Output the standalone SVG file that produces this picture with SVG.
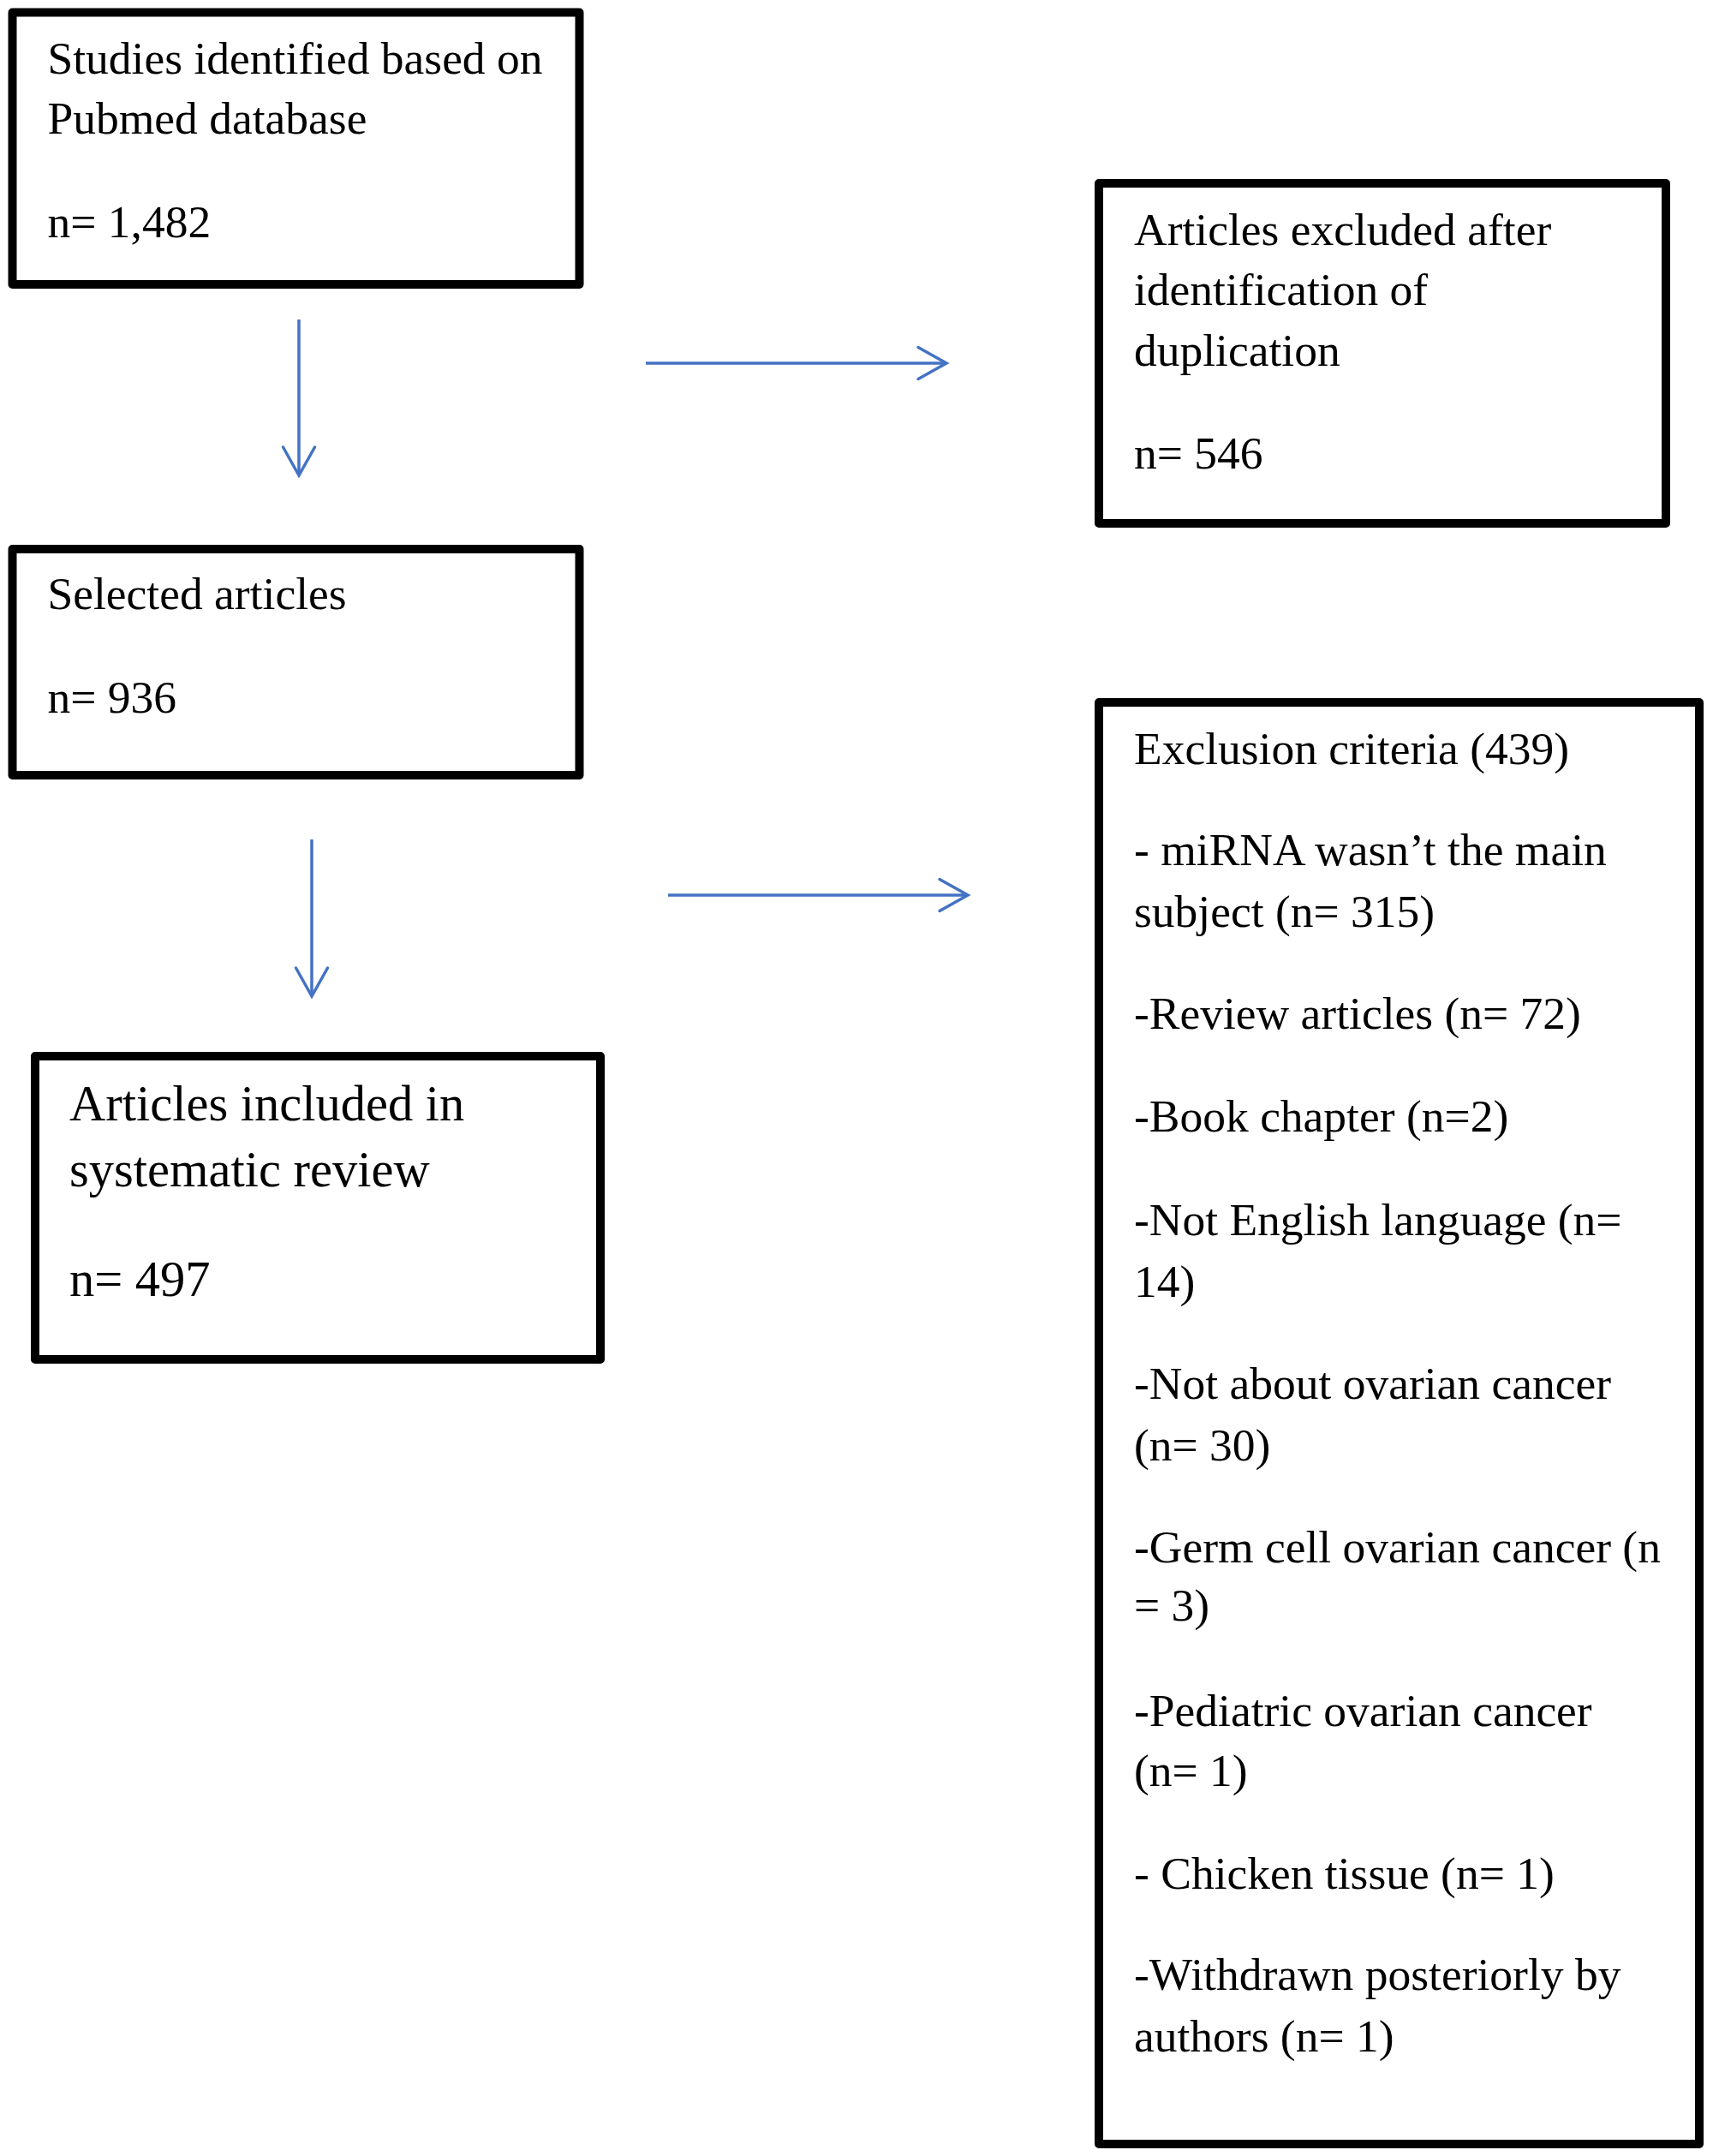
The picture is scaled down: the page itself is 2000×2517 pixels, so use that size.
<svg xmlns="http://www.w3.org/2000/svg" width="2000" height="2517" viewBox="0 0 2000 2517">
<style>
.box{fill:#fff;stroke:#000;stroke-width:10;stroke-linejoin:round}
.t{font-family:"Liberation Serif","Times New Roman",serif;font-size:53.5px;fill:#000}
.tl{font-family:"Liberation Serif","Times New Roman",serif;font-size:58.5px;fill:#000}
.conn{fill:none;stroke:#4472C4;stroke-width:3.5}
</style>
<defs>
<marker id="arr" markerUnits="userSpaceOnUse" markerWidth="44" markerHeight="44" viewBox="0 0 44 44" refX="38" refY="22" orient="auto">
<path d="M5,3.5 L38,22 L5,40.5" fill="none" stroke="#4472C4" stroke-width="3.5" stroke-linecap="round"/>
</marker>
</defs>
<rect width="2000" height="2517" fill="#fff"/>
<g id="connectors">
<path class="conn" d="M349,373 L349,555" marker-end="url(#arr)"/>
<path class="conn" d="M754,424 L1105,424" marker-end="url(#arr)"/>
<path class="conn" d="M364,980 L364,1163" marker-end="url(#arr)"/>
<path class="conn" d="M780,1045 L1130,1045" marker-end="url(#arr)"/>
</g>
<g id="node-identified">
<rect class="box" x="14.5" y="14.5" width="662" height="317.5"/>
<text class="t" x="55.5" y="86">Studies identified based on</text>
<text class="t" x="55.5" y="156">Pubmed database</text>
<text class="t" x="55.5" y="277">n= 1,482</text>
</g>
<g id="node-duplicates">
<rect class="box" x="1283" y="214" width="662" height="397"/>
<text class="t" x="1324" y="286">Articles excluded after</text>
<text class="t" x="1324" y="356">identification of</text>
<text class="t" x="1324" y="427">duplication</text>
<text class="t" x="1324" y="547">n= 546</text>
</g>
<g id="node-selected">
<rect class="box" x="14.5" y="641" width="662" height="264"/>
<text class="t" x="55.5" y="711">Selected articles</text>
<text class="t" x="55.5" y="832">n= 936</text>
</g>
<g id="node-included">
<rect class="box" x="41" y="1233" width="660" height="354"/>
<text class="tl" x="81" y="1308">Articles included in</text>
<text class="tl" x="81" y="1385">systematic review</text>
<text class="tl" x="81" y="1513">n= 497</text>
</g>
<g id="node-exclusion">
<rect class="box" x="1283" y="820" width="701" height="1683"/>
<text class="t" x="1324" y="892">Exclusion criteria (439)</text>
<text class="t" x="1324" y="1010">- miRNA wasn’t the main</text>
<text class="t" x="1324" y="1082">subject (n= 315)</text>
<text class="t" x="1324" y="1201">-Review articles (n= 72)</text>
<text class="t" x="1324" y="1321">-Book chapter (n=2)</text>
<text class="t" x="1324" y="1442">-Not English language (n=</text>
<text class="t" x="1324" y="1514">14)</text>
<text class="t" x="1324" y="1633">-Not about ovarian cancer</text>
<text class="t" x="1324" y="1705">(n= 30)</text>
<text class="t" x="1324" y="1824">-Germ cell ovarian cancer (n</text>
<text class="t" x="1324" y="1892">= 3)</text>
<text class="t" x="1324" y="2015">-Pediatric ovarian cancer</text>
<text class="t" x="1324" y="2085">(n= 1)</text>
<text class="t" x="1324" y="2205">- Chicken tissue (n= 1)</text>
<text class="t" x="1324" y="2323">-Withdrawn posteriorly by</text>
<text class="t" x="1324" y="2395">authors (n= 1)</text>
</g>
</svg>
